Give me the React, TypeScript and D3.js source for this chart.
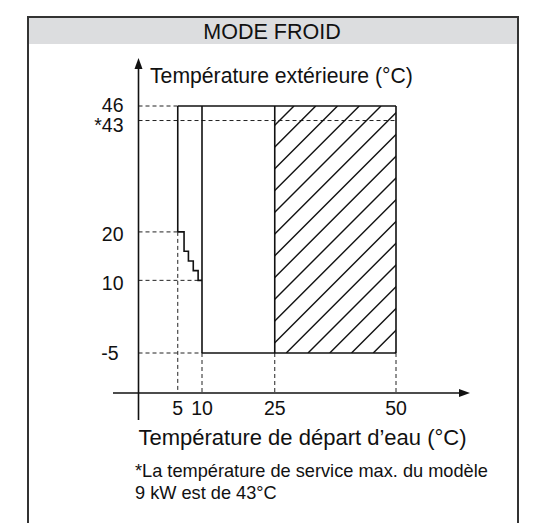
import * as d3 from "d3";

// water outlet temperature (°C) ticks and outdoor temperature (°C) ticks
const xTicks = [5, 10, 25, 50];
const yTicks = [46, 43, 20, 10, -5];
const yTickLabels = ["46", "*43", "20", "10", "-5"];

// operating envelope
const xMin = 5;
const xMid = 10;
const hatchFrom = 25;
const xMax = 50;
const yMax = 46;
const yLimit9kW = 43;
const yMin = -5;

// staircase limit between 5°C and 10°C water
const stepX = [5, 6.3, 7.2, 8.2, 9.2, 10];
const stepY = [20, 16, 14, 12, 10];

const title = "MODE FROID";
const yTitle = "Température extérieure (°C)";
const xTitle = "Température de départ d’eau (°C)";
const note = ["*La température de service max. du modèle", "9 kW est de 43°C"];

const W = 546;
const H = 523;
const FONT = "'Liberation Sans', Arial, sans-serif";

// small vertical nudges of the y labels, as in the original drawing
const labelNudge: Record<string, number> = { "46": -1.5, "*43": 4, "20": 2.5, "10": 2.5, "-5": 0 };

export default function App() {
  const x = d3.scaleLinear().domain([10, 50]).range([202, 396]);
  const y = d3.scaleLinear().domain([-5, 46]).range([353, 106]);

  const axisX = 138.5; // y-axis position
  const axisY = 393; // x-axis position

  // stair path
  const stairPts: [number, number][] = [[stepX[0], stepY[0]]];
  for (let i = 1; i < stepX.length; i++) {
    stairPts.push([stepX[i], stepY[i - 1]]);
    if (i < stepY.length) stairPts.push([stepX[i], stepY[i]]);
  }
  const line = d3.line<[number, number]>().x((d) => x(d[0])).y((d) => y(d[1]));

  // hatch lines (x + y = c)
  const hx0 = x(hatchFrom);
  const hx1 = x(xMax);
  const hy0 = y(yMax);
  const hy1 = y(yMin);
  const hatch: number[] = [];
  for (let c = 400 - 21.75 * 4; c < hx1 + hy1 + 5; c += 21.75) hatch.push(c);

  const dash = "4,3";

  return (
    <svg
      width={W}
      height={H}
      style={{ position: "absolute", left: 0, top: 0, background: "#fff" }}
      fontFamily={FONT}
    >
      <defs>
        <clipPath id="hclip">
          <rect x={hx0} y={hy0} width={hx1 - hx0} height={hy1 - hy0} />
        </clipPath>
      </defs>

      {/* frame + header */}
      <rect x={28} y={17} width={490} height={27} fill="#dcdddf" />
      <path d="M28,523V17H518V523" fill="none" stroke="#333" strokeWidth={2} />
      <text x={272} y={38.5} textAnchor="middle" fontSize={21.5} fill="#111">
        {title}
      </text>

      {/* dashed guides */}
      <g stroke="#222" strokeWidth={1} strokeDasharray={dash} fill="none">
        <line x1={axisX} x2={x(xMin)} y1={y(yMax)} y2={y(yMax)} />
        <line x1={axisX} x2={x(xMax)} y1={y(yLimit9kW)} y2={y(yLimit9kW)} />
        <line x1={axisX} x2={x(xMin)} y1={y(stepY[0])} y2={y(stepY[0])} />
        <line x1={axisX} x2={x(xMid)} y1={y(10)} y2={y(10)} />
        <line x1={axisX} x2={x(xMid)} y1={y(yMin)} y2={y(yMin)} />
        <line x1={x(xMin)} x2={x(xMin)} y1={y(stepY[0])} y2={axisY} />
        {[xMid, hatchFrom, xMax].map((v) => (
          <line key={v} x1={x(v)} x2={x(v)} y1={y(yMin)} y2={axisY} />
        ))}
      </g>

      {/* hatch */}
      <g clipPath="url(#hclip)" stroke="#111" strokeWidth={1.4}>
        {hatch.map((c, i) => (
          <line key={i} x1={c - hy1} y1={hy1} x2={c - hy0} y2={hy0} />
        ))}
      </g>

      {/* envelope outlines */}
      <g stroke="#111" strokeWidth={1.6} fill="none">
        <path d={line(stairPts) ?? ""} />
        <line x1={x(xMin)} x2={x(xMin)} y1={y(yMax)} y2={y(stepY[0])} />
        <line x1={x(xMin)} x2={x(xMax)} y1={y(yMax)} y2={y(yMax)} />
        <line x1={x(xMid)} x2={x(xMid)} y1={y(yMax)} y2={y(yMin)} />
        <line x1={x(hatchFrom)} x2={x(hatchFrom)} y1={y(yMax)} y2={y(yMin)} />
        <line x1={x(xMax)} x2={x(xMax)} y1={y(yMax)} y2={y(yMin)} />
        <line x1={x(xMid)} x2={x(xMax)} y1={y(yMin)} y2={y(yMin)} />
      </g>

      {/* axes */}
      <g stroke="#111" strokeWidth={1.6}>
        <line x1={axisX} x2={axisX} y1={68} y2={420} />
        <line x1={113} x2={462} y1={axisY} y2={axisY} />
      </g>
      <path d={`M${axisX},58L${axisX - 4},69L${axisX + 4},69Z`} fill="#111" />
      <path d={`M470,${axisY}L459,${axisY - 4}L459,${axisY + 4}Z`} fill="#111" />

      {/* tick labels */}
      <g fontSize={19.5} fill="#111">
        {yTicks.map((v, i) => (
          <text
            key={v}
            x={yTickLabels[i].startsWith("-") ? 118.5 : 123.5}
            y={y(v) + (labelNudge[yTickLabels[i]] ?? 0)}
            dy="0.36em"
            textAnchor="end"
          >
            {yTickLabels[i]}
          </text>
        ))}
        {xTicks.map((v) => (
          <text key={v} x={x(v)} y={415} textAnchor="middle">
            {v}
          </text>
        ))}
      </g>

      {/* titles */}
      <text x={150} y={82.5} fontSize={21.2} fill="#111">
        {yTitle}
      </text>
      <text x={302.5} y={444.5} fontSize={22} textAnchor="middle" fill="#111">
        {xTitle}
      </text>
      <g fontSize={18.2} fill="#111">
        {note.map((t, i) => (
          <text key={i} x={135} y={477 + i * 22}>
            {t}
          </text>
        ))}
      </g>
    </svg>
  );
}
